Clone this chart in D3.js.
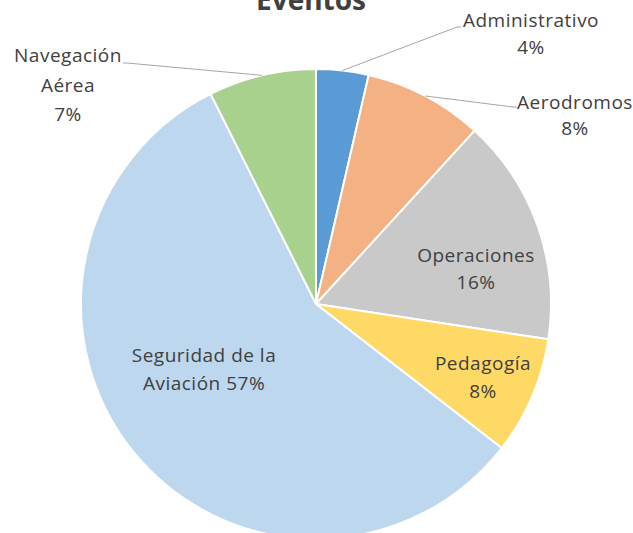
<!DOCTYPE html>
<html>
<head>
<meta charset="utf-8">
<script src="https://cdn.jsdelivr.net/npm/d3@7"></script>
<style>
  html, body { margin: 0; padding: 0; background: #fff; }
  svg { display: block; }
  text { font-family: "Open Sans", "Liberation Sans", sans-serif; fill: #404040; }
</style>
</head>
<body>
<svg id="chart" width="633" height="533"></svg>
<script>
// ---- data ----
const categories = ["Administrativo", "Aerodromos", "Operaciones", "Pedagogía", "Seguridad de la Aviación", "Navegación Aérea"];
const values = [3.6, 8.2, 15.6, 8.1, 57.1, 7.4];
const percentLabels = ["4%", "8%", "16%", "8%", "57%", "7%"];
const colors = ["#5B9BD5", "#F4B183", "#C9C9C9", "#FFD966", "#BDD7EE", "#A9D18E"];
const title = "Eventos";

// ---- layout (label placement, not data) ----
const labelLines = [
  ["Administrativo", "4%"],
  ["Aerodromos", "8%"],
  ["Operaciones", "16%"],
  ["Pedagogía", "8%"],
  ["Seguridad de la", "Aviación 57%"],
  ["Navegación", "Aérea", "7%"]
];
const labelPos = [
  {x: 531, y: 27, dy: 27, leader: [457, 27]},
  {x: 575, y: 109, dy: 26, leader: [513, 107]},
  {x: 476, y: 262, dy: 27},
  {x: 483, y: 370, dy: 28},
  {x: 204, y: 362, dy: 28},
  {x: 68, y: 62, dy: 29.5, leader: [127, 63]}
];

const svg = d3.select("#chart");
const cx = 316, cy = 304, R = 235;

const pie = d3.pie().sort(null).value(d => d)(values);
const arc = d3.arc().innerRadius(0).outerRadius(R);
const g = svg.append("g").attr("transform", `translate(${cx},${cy})`);

g.selectAll("path").data(pie).join("path")
  .attr("d", arc)
  .attr("fill", (d, i) => colors[i])
  .attr("stroke", "#fff")
  .attr("stroke-width", 2)
  .attr("stroke-linejoin", "round");

// leader lines
pie.forEach((d, i) => {
  const lp = labelPos[i];
  if (!lp.leader) return;
  const a = (d.startAngle + d.endAngle) / 2;
  const x0 = cx + R * Math.sin(a), y0 = cy - R * Math.cos(a);
  const pts = [[x0, y0], lp.leader];
  const lx = lp.leader[0] < x0 ? lp.leader[0] - 4 : lp.leader[0] + 4;
  pts.push([lx, lp.leader[1]]);
  svg.append("path")
    .attr("d", d3.line()(pts))
    .attr("fill", "none")
    .attr("stroke", "#A6A6A6")
    .attr("stroke-width", 1);
});

// labels
labelLines.forEach((lines, i) => {
  const lp = labelPos[i];
  const t = svg.append("text")
    .attr("text-anchor", "middle")
    .style("font-size", "19px")
    .style("letter-spacing", "0.5px");
  lines.forEach((s, j) => {
    t.append("tspan").attr("x", lp.x).attr("y", lp.y + j * lp.dy).text(s);
  });
});

// title (partially cut at top, as in the reference)
svg.append("text")
  .attr("x", 311).attr("y", 10)
  .attr("text-anchor", "middle")
  .style("font-size", "28px")
  .style("font-weight", "bold")
  .text(title);
</script>
</body>
</html>
